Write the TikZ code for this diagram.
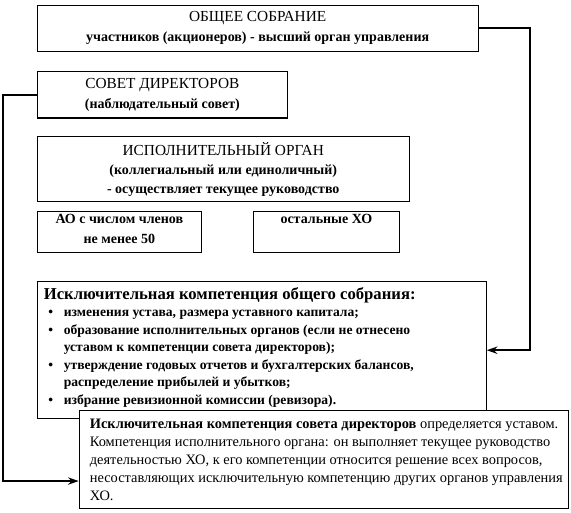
\documentclass[tikz,border=0pt]{standalone}
\usepackage{fontspec}
\setmainfont{Liberation Serif}
\usetikzlibrary{arrows.meta,calc}
\newcommand\bitem[1]{\par\noindent\hangindent=20pt\hangafter=1\hspace*{8.5pt}\makebox[11.5pt][l]{\textbullet}#1}
\begin{document}
\begin{tikzpicture}[x=0.75pt,y=-0.75pt,
  box/.style={draw=black, line width=0.8pt, inner sep=0pt, fill=white, align=center,
    anchor=north west, font=\fontsize{10.5}{15}\selectfont},
  conn/.style={line width=1.5pt, -{Stealth[length=8pt,width=5.5pt]}}]
\useasboundingbox (0,0) rectangle (571,512);

\node[box, minimum width=330.8pt, minimum height=34.3pt] (gm) at (36.6,5)
  {{\fontsize{11.5}{15}\selectfont ОБЩЕЕ СОБРАНИЕ}\\\textbf{участников (акционеров) - высший орган управления}};
\node[box, minimum width=187.8pt, minimum height=35.2pt] (sd) at (36.6,70.5)
  {{\fontsize{11.5}{15}\selectfont СОВЕТ ДИРЕКТОРОВ}\\\textbf{(наблюдательный совет)}};
\node[box, minimum width=279.2pt, minimum height=48.9pt, font=\fontsize{10.5}{14.3}\selectfont] (io) at (36.6,136)
  {{\fontsize{11.5}{14.3}\selectfont ИСПОЛНИТЕЛЬНЫЙ ОРГАН}\\\textbf{(коллегиальный или единоличный)}\\\textbf{- осуществляет текущее руководство}};
\node[box, minimum width=123.3pt, minimum height=31.3pt] (ao) at (36.6,210.5)
  {\parbox[c][31.3pt][t]{123.3pt}{\centering\vspace{2.5pt}\textbf{АО с числом членов}\\\textbf{не менее 50}}};
\node[box, minimum width=109.8pt, minimum height=31.3pt] (xo) at (252.6,210.5)
  {\parbox[c][31.3pt][t]{109.8pt}{\centering\vspace{2.5pt}\textbf{остальные ХО}}};
\node[box, minimum width=336.8pt, minimum height=103pt, align=left,
  font=\fontsize{10.2}{13.1}\selectfont] (comp) at (36.6,281)
  {\parbox[c][103pt][t]{336.8pt}{\vspace{4.5pt}\bfseries
   \noindent\hspace*{5pt}{\fontsize{12.5}{14}\selectfont Исключительная компетенция общего собрания:}
   \bitem{изменения устава, размера уставного капитала;}
   \bitem{образование исполнительных органов (если не отнесено\newline уставом к компетенции совета директоров);}
   \bitem{утверждение годовых отчетов и бухгалтерских балансов,\newline распределение прибылей и убытков;}
   \bitem{избрание ревизионной комиссии (ревизора).}\par}};
\node[box, minimum width=367pt, minimum height=73.5pt, align=left,
  font=\fontsize{10.8}{13.6}\selectfont] (bot) at (78.7,409.5)
  {\parbox[c][73.5pt][t]{367pt}{\raggedright\leftskip=8pt\vspace{6.5pt}
   \textbf{Исключительная компетенция совета директоров} определяется уставом.\\
   Компетенция исполнительного органа: он выполняет текущее руководство\\
   деятельностью ХО, к его компетенции относится решение всех вопросов,\\
   несоставляющих исключительную компетенцию других органов управления\\
   ХО.}};

\coordinate (r) at (529.6,0);
\coordinate (l) at (2.9,0);
\draw[conn] (gm.east) -- (gm.east -| r) |- (comp.east);
\draw[conn] (sd.west) -- (sd.west -| l) |- ([yshift=-16.5pt]bot.west);
\end{tikzpicture}
\end{document}
